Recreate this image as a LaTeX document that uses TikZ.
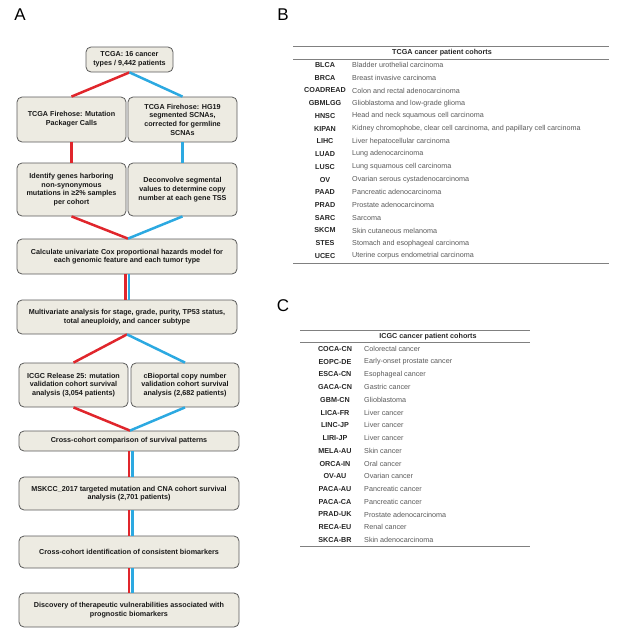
\documentclass[tikz,border=0pt]{standalone}
\usepackage{fontspec}
\setmainfont{Liberation Sans}
\begin{document}
\begin{tikzpicture}[x=1pt,y=-1pt,
  flowbox/.style={draw=boxborder, fill=boxfill, rounded corners=5pt, line width=0.8pt,
    align=center, inner sep=1pt, font=\fontsize{7.2}{8.7}\selectfont\bfseries, text=black!90},
  redl/.style={draw=lred, line width=2.5pt},
  bluel/.style={draw=lblue, line width=2.5pt},
  panel/.style={font=\fontsize{17}{20}\selectfont, anchor=center},
  thead/.style={font=\fontsize{7.2}{8}\selectfont\bfseries, text=black!85},
  tcode/.style={font=\fontsize{7.2}{8}\selectfont\bfseries, text=black!85, anchor=center},
  tdesc/.style={font=\fontsize{7.2}{8}\selectfont, text=black!65, anchor=west, inner sep=1pt},
  trule/.style={draw=black!50, line width=0.8pt}
]
\definecolor{boxfill}{HTML}{EDEBE2}
\definecolor{boxborder}{HTML}{5A5A5A}
\definecolor{lred}{HTML}{E0262C}
\definecolor{lblue}{HTML}{2CA9E1}
\useasboundingbox (0,0) rectangle (617,632);

% panel labels
\node[panel] (pA) at (20,15) {A};
\node[panel] (pB) at (283,15) {B};
\node[panel] (pC) at (283,306) {C};

% connectors (drawn first so boxes sit on top)
\begin{scope}[on background layer/.style={}]
\end{scope}

% flowchart boxes
\node[flowbox, minimum width=87pt, minimum height=25pt] (top) at (129.5,59.5) {TCGA: 16 cancer\\types / 9,442 patients};
\node[flowbox, minimum width=109pt, minimum height=45pt] (L1) at (71.5,119.5) {TCGA Firehose: Mutation\\Packager Calls};
\node[flowbox, minimum width=109pt, minimum height=45pt] (R1) at (182.5,119.5) {TCGA Firehose: HG19\\segmented SCNAs,\\corrected for germline\\SCNAs};
\node[flowbox, minimum width=109pt, minimum height=53pt] (L2) at (71.5,189.5) {Identify genes harboring\\non-synonymous\\mutations in ≥2\% samples\\per cohort};
\node[flowbox, minimum width=109pt, minimum height=53pt] (R2) at (182.5,189.5) {Deconvolve segmental\\values to determine copy\\number at each gene TSS};
\node[flowbox, minimum width=220pt, minimum height=35pt] (cox) at (127,256.5) {Calculate univariate Cox proportional hazards model for\\each genomic feature and each tumor type};
\node[flowbox, minimum width=220pt, minimum height=34pt] (multi) at (127,317) {Multivariate analysis for stage, grade, purity, TP53 status,\\total aneuploidy, and cancer subtype};
\node[flowbox, minimum width=109pt, minimum height=44pt] (icgc) at (73.5,385) {ICGC Release 25: mutation\\validation cohort survival\\analysis (3,054 patients)};
\node[flowbox, minimum width=108pt, minimum height=44pt] (cbio) at (185,385) {cBioportal copy number\\validation cohort survival\\analysis (2,682 patients)};
\node[flowbox, minimum width=220pt, minimum height=20pt] (cross) at (129,441) {Cross-cohort comparison of survival patterns};
\node[flowbox, minimum width=220pt, minimum height=33pt] (msk) at (129,493.5) {MSKCC\_2017 targeted mutation and CNA cohort survival\\analysis (2,701 patients)};
\node[flowbox, minimum width=220pt, minimum height=32pt] (biom) at (129,552) {Cross-cohort identification of consistent biomarkers};
\node[flowbox, minimum width=220pt, minimum height=34pt] (disc) at (129,610) {Discovery of therapeutic vulnerabilities associated with\\prognostic biomarkers};

% connectors
\draw[redl] (top.south) -- (L1.north);
\draw[bluel] (top.south) -- (R1.north);
\draw[redl] (L1.south) -- (L2.north);
\draw[bluel] (R1.south) -- (R2.north);
\draw[redl] (L2.south) -- ([xshift=1pt]cox.north);
\draw[bluel] (R2.south) -- ([xshift=1pt]cox.north);
\draw[redl] ([xshift=-1.3pt]cox.south) -- ([xshift=-1.3pt]multi.north);
\draw[bluel] ([xshift=1.9pt]cox.south) -- ([xshift=1.9pt]multi.north);
\draw[redl] (multi.south) -- (icgc.north);
\draw[bluel] (multi.south) -- (cbio.north);
\draw[redl] (icgc.south) -- ([xshift=1pt]cross.north);
\draw[bluel] (cbio.south) -- ([xshift=1pt]cross.north);
\draw[redl] ([xshift=0.2pt]cross.south) -- ([xshift=0.2pt]msk.north);
\draw[bluel] ([xshift=3.4pt]cross.south) -- ([xshift=3.4pt]msk.north);
\draw[redl] ([xshift=0.2pt]msk.south) -- ([xshift=0.2pt]biom.north);
\draw[bluel] ([xshift=3.4pt]msk.south) -- ([xshift=3.4pt]biom.north);
\draw[redl] ([xshift=0.2pt]biom.south) -- ([xshift=0.2pt]disc.north);
\draw[bluel] ([xshift=3.4pt]biom.south) -- ([xshift=3.4pt]disc.north);

% Table B
\draw[trule] (293,46) -- (609,46);
\draw[trule] (293,59) -- (609,59);
\draw[trule] (293,263) -- (609,263);
\node[thead] (bhead) at (442,52.5) {TCGA cancer patient cohorts};
\foreach [count=\i] \c/\d in {BLCA/Bladder urothelial carcinoma,
  BRCA/Breast invasive carcinoma,
  COADREAD/Colon and rectal adenocarcinoma,
  GBMLGG/Glioblastoma and low-grade glioma,
  HNSC/Head and neck squamous cell carcinoma,
  KIPAN/{Kidney chromophobe, clear cell carcinoma, and papillary cell carcinoma},
  LIHC/Liver hepatocellular carcinoma,
  LUAD/Lung adenocarcinoma,
  LUSC/Lung squamous cell carcinoma,
  OV/Ovarian serous cystadenocarcinoma,
  PAAD/Pancreatic adenocarcinoma,
  PRAD/Prostate adenocarcinoma,
  SARC/Sarcoma,
  SKCM/Skin cutaneous melanoma,
  STES/Stomach and esophageal carcinoma,
  UCEC/Uterine corpus endometrial carcinoma}{
  \node[tcode] (bc\i) at (325,{65+12.73*(\i-1)}) {\c};
  \node[tdesc] (bd\i) at (351,{65+12.73*(\i-1)}) {\d};
}

% Table C
\draw[trule] (300,330) -- (530,330);
\draw[trule] (300,342) -- (530,342);
\draw[trule] (300,546) -- (530,546);
\node[thead] (chead) at (428,336.5) {ICGC cancer patient cohorts};
\foreach [count=\i] \c/\d in {COCA-CN/Colorectal cancer,
  EOPC-DE/Early-onset prostate cancer,
  ESCA-CN/Esophageal cancer,
  GACA-CN/Gastric cancer,
  GBM-CN/Glioblastoma,
  LICA-FR/Liver cancer,
  LINC-JP/Liver cancer,
  LIRI-JP/Liver cancer,
  MELA-AU/Skin cancer,
  ORCA-IN/Oral cancer,
  OV-AU/Ovarian cancer,
  PACA-AU/Pancreatic cancer,
  PACA-CA/Pancreatic cancer,
  PRAD-UK/Prostate adenocarcinoma,
  RECA-EU/Renal cancer,
  SKCA-BR/Skin adenocarcinoma}{
  \node[tcode] (cc\i) at (335,{349+12.73*(\i-1)}) {\c};
  \node[tdesc] (cd\i) at (363,{349+12.73*(\i-1)}) {\d};
}
\end{tikzpicture}
\end{document}
